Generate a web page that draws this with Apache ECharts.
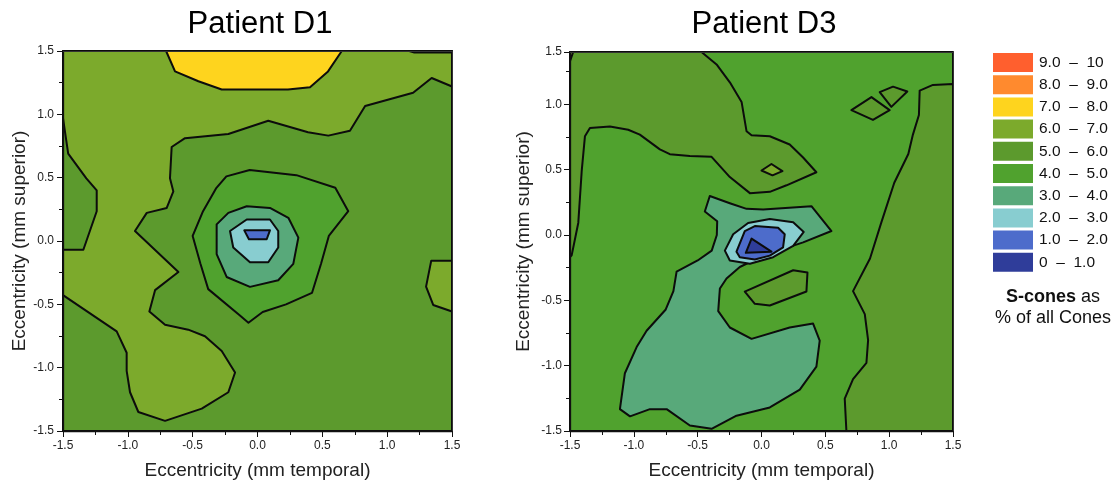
<!DOCTYPE html>
<html><head><meta charset="utf-8">
<script src="https://cdn.jsdelivr.net/npm/echarts@6/dist/echarts.min.js"></script>
<style>html,body{margin:0;padding:0;background:#fff;}#chart{width:1117px;height:485px;}</style>
</head><body><div id="chart"></div>
<script>
// ---------------- data ----------------
const bandMins = [0, 1, 2, 3, 4, 5, 6, 7, 8, 9];
const bandMaxs = [1, 2, 3, 4, 5, 6, 7, 8, 9, 10];
const bandLabels = ['0  \u2013  1.0', '1.0  \u2013  2.0', '2.0  \u2013  3.0', '3.0  \u2013  4.0', '4.0  \u2013  5.0',
                    '5.0  \u2013  6.0', '6.0  \u2013  7.0', '7.0  \u2013  8.0', '8.0  \u2013  9.0', '9.0  \u2013  10'];
const tickLabels = ['-1.5', '-1.0', '-0.5', '0.0', '0.5', '1.0', '1.5'];
const titles = ['Patient D1', 'Patient D3'];
const xName = 'Eccentricity (mm temporal)';
const yName = 'Eccentricity (mm superior)';
const captionBold = 'S-cones';
const captionRest = ' as';
const captionLine2 = '% of all Cones';

// Patient D1: contour regions (x mm temporal, y mm superior), painted in order
const d1Base = [[-1.5,-1.5],[1.5,-1.5],[1.5,1.5],[-1.5,1.5]];
const d1Outer6 = [[1.5,1.22],[1.343,1.287],[1.2,1.17],[0.83,1.066],[0.713,0.871],[0.546,0.832],[0.39,0.859],[0.083,0.949],
  [-0.225,0.845],[-0.559,0.812],[-0.662,0.742],[-0.675,0.495],[-0.649,0.391],[-0.70,0.261],[-0.854,0.222],[-0.945,0.079],
  [-0.61,-0.245],[-0.79,-0.388],[-0.834,-0.557],[-0.713,-0.661],[-0.534,-0.70],[-0.405,-0.752],[-0.276,-0.869],
  [-0.173,-1.038],[-0.225,-1.194],[-0.43,-1.323],[-0.713,-1.42],[-0.919,-1.35],[-0.983,-1.194],[-1.009,-1.025],
  [-1.009,-0.882],[-1.086,-0.713],[-1.5,-0.427],[-1.5,1.5],[1.5,1.5]];
const d1Strip5 = [[-1.5,0.97],[-1.46,0.69],[-1.32,0.495],[-1.24,0.40],[-1.24,0.235],[-1.343,-0.069],[-1.5,-0.069]];
const d1Edge6 = [[1.5,-0.155],[1.34,-0.155],[1.30,-0.36],[1.355,-0.505],[1.5,-0.557]];
const d1Peak7 = [[-0.705,1.5],[-0.636,1.339],[-0.456,1.261],[-0.276,1.196],[0.235,1.196],[0.405,1.214],[0.544,1.339],[0.65,1.5]];
const d1Corner7 = [[1.17,1.5],[1.21,1.488],[1.5,1.488],[1.5,1.5]];
const d1Ring4 = [[-0.24,0.51],[-0.06,0.56],[0.30,0.52],[0.60,0.42],[0.70,0.235],[0.55,0.04],[0.49,-0.18],[0.42,-0.41],
  [0.22,-0.50],[0.04,-0.56],[-0.07,-0.645],[-0.14,-0.585],[-0.38,-0.38],[-0.44,-0.18],[-0.50,0.04],[-0.42,0.235],[-0.32,0.415]];
const d1Ring3 = [[-0.315,0.131],[-0.225,0.222],[-0.083,0.274],[0.096,0.261],[0.238,0.183],[0.315,0.027],[0.276,-0.181],
  [0.16,-0.31],[-0.058,-0.362],[-0.238,-0.284],[-0.315,-0.103]];
const d1Ring2 = [[-0.212,0.079],[-0.083,0.17],[0.096,0.17],[0.16,0.079],[0.16,-0.051],[0.083,-0.168],[-0.058,-0.168],[-0.187,-0.051]];
const d1Core1 = [[-0.102,0.084],[0.096,0.084],[0.071,0.014],[-0.066,0.014]];
const d1Regions = [[5,d1Base],[6,d1Outer6],[5,d1Strip5],[6,d1Edge6],[7,d1Peak7],[7,d1Corner7],
                   [4,d1Ring4],[3,d1Ring3],[2,d1Ring2],[1,d1Core1]];

// Patient D3: contour regions (y axis of this panel ends at 1.4, labelled 1.5 in the figure)
const d3YMax = 1.4;
const d3Base = [[-1.5,-1.5],[1.5,-1.5],[1.5,1.4],[-1.5,1.4]];
const d3Upper5 = [[-0.47,1.4],[-0.352,1.305],[-0.248,1.168],[-0.156,1.018],[-0.117,0.793],[-0.078,0.763],[0.065,0.755],
  [0.221,0.692],[0.326,0.593],[0.43,0.48],[0.196,0.38],[0.065,0.33],[-0.091,0.32],[-0.248,0.443],[-0.391,0.598],
  [-0.561,0.605],[-0.718,0.618],[-0.796,0.655],[-0.953,0.768],[-1.044,0.805],[-1.187,0.83],[-1.344,0.818],[-1.383,0.755],
  [-1.408,0.493],[-1.435,0.094],[-1.487,-0.156],[-1.5,-0.17],[-1.5,1.4]];
const d3Dot6 = [[0.0,0.493],[0.078,0.543],[0.164,0.488],[0.086,0.456]];
const d3Right5 = [[1.5,1.155],[1.343,1.148],[1.239,1.105],[1.233,0.918],[1.186,0.768],[1.15,0.62],[1.04,0.40],[0.94,0.10],
  [0.85,-0.18],[0.717,-0.43],[0.809,-0.606],[0.835,-0.805],[0.822,-0.978],[0.717,-1.103],[0.652,-1.252],[0.665,-1.5],[1.5,-1.5]];
const d3Diamond5a = [[0.704,0.955],[0.861,1.055],[1.004,0.955],[0.873,0.88]];
const d3Diamond5b = [[0.926,1.093],[1.03,1.135],[1.142,1.098],[1.017,0.98]];
const d3Corner6 = [[-1.5,1.4],[-1.475,1.4],[-1.5,1.33]];
const d3Teal3 = [[-0.405,0.298],[-0.248,0.243],[-0.117,0.2],[0.013,0.195],[0.391,0.22],[0.548,0.03],[0.326,-0.057],
  [0.013,-0.158],[-0.17,-0.245],[-0.274,-0.333],[-0.326,-0.41],[-0.339,-0.583],[-0.248,-0.708],[-0.078,-0.795],
  [0.221,-0.708],[0.404,-0.678],[0.456,-0.808],[0.43,-1.008],[0.3,-1.183],[0.065,-1.32],[-0.196,-1.383],[-0.391,-1.483],
  [-0.561,-1.458],[-0.743,-1.333],[-0.874,-1.333],[-1.03,-1.388],[-1.109,-1.333],[-1.07,-1.058],[-0.978,-0.858],
  [-0.9,-0.733],[-0.75,-0.57],[-0.69,-0.43],[-0.665,-0.28],[-0.5,-0.195],[-0.39,-0.12],[-0.35,0.0],[-0.347,0.105],[-0.444,0.18]];
const d3Pocket5 = [[-0.131,-0.433],[0.248,-0.27],[0.36,-0.288],[0.352,-0.433],[0.065,-0.54],[-0.052,-0.527]];
const d3Cyan2 = [[-0.287,-0.12],[-0.222,0.005],[-0.105,0.092],[0.065,0.122],[0.248,0.098],[0.331,0.023],[0.248,-0.083],
  [0.091,-0.17],[-0.091,-0.22],[-0.248,-0.195]];
const d3Blue1 = [[-0.196,-0.128],[-0.131,0.03],[-0.052,0.068],[0.13,0.055],[0.182,0.005],[0.169,-0.095],[0.065,-0.158],
  [-0.052,-0.188],[-0.17,-0.17]];
const d3Deep0 = [[-0.123,-0.137],[-0.078,-0.028],[0.078,-0.128]];
const d3Regions = [[4,d3Base],[5,d3Upper5],[6,d3Dot6],[5,d3Right5],[5,d3Diamond5a],[5,d3Diamond5b],[6,d3Corner6],
                   [3,d3Teal3],[5,d3Pocket5],[2,d3Cyan2],[1,d3Blue1],[0,d3Deep0]];

// ---------------- styles ----------------
const bandColors = ['#2f3d9a','#4d6ccb','#88cdd0','#58a97a','#50a22e','#5c9a2d','#7caa2c','#fed41e','#ff8a2e','#ff5f2e'];
const FONT = '"Liberation Sans", Arial, Helvetica, sans-serif';
const INK = '#111';

function contourSeries(regions, idx) {
  return {
    type: 'custom', xAxisIndex: idx, yAxisIndex: idx, z: 2, silent: true, animation: false,
    data: regions.map((r, i) => [0, 0, i, r[0]]),
    renderItem: function (params, api) {
      const reg = regions[params.dataIndex];
      const pts = reg[1].map(p => api.coord(p));
      return { type: 'polygon', shape: { points: pts },
        style: { fill: bandColors[reg[0]], stroke: '#0c0c0c', lineWidth: 2, lineJoin: 'round' } };
    }
  };
}

function mainX(grid) {
  return { type: 'value', gridIndex: grid, min: -1.5, max: 1.5, interval: 0.5, position: 'bottom', z: 5,
    axisLine: { show: true, onZero: false, lineStyle: { color: INK, width: 1.3 } },
    axisTick: { show: true, length: 6, lineStyle: { color: INK, width: 1 } },
    minorTick: { show: true, splitNumber: 2, length: 4, lineStyle: { color: INK, width: 1 } },
    splitLine: { show: false }, minorSplitLine: { show: false },
    axisLabel: { fontSize: 12, color: '#222', margin: 9, fontFamily: FONT, formatter: (v, i) => tickLabels[i] },
    name: xName, nameLocation: 'middle', nameGap: 30,
    nameTextStyle: { fontSize: 19, color: '#222', fontFamily: FONT } };
}
function frameAxis(grid, pos, max) {
  return { type: 'value', gridIndex: grid, min: -1.5, max: max, position: pos, z: 5,
    axisLine: { show: true, onZero: false, lineStyle: { color: '#333', width: 1 } },
    axisTick: { show: false }, axisLabel: { show: false }, splitLine: { show: false } };
}

const option = {
  backgroundColor: '#fff',
  animation: false,
  title: [
    { text: titles[0], left: 260, top: 9, textAlign: 'center', padding: 0,
      textStyle: { fontSize: 31, fontWeight: 'normal', color: '#000', fontFamily: FONT } },
    { text: titles[1], left: 764, top: 9, textAlign: 'center', padding: 0,
      textStyle: { fontSize: 31, fontWeight: 'normal', color: '#000', fontFamily: FONT } }
  ],
  grid: [
    { left: 63, top: 51, width: 389, height: 385 },
    { left: 570, top: 52, width: 383, height: 387 }
  ],
  xAxis: [ mainX(0), mainX(1), frameAxis(0, 'top', 1.5), frameAxis(1, 'top', 1.5) ],
  yAxis: [
    { type: 'value', gridIndex: 0, min: -1.5, max: 1.5, interval: 0.5, position: 'left', z: 5,
      axisLine: { show: true, onZero: false, lineStyle: { color: INK, width: 1.3 } },
      axisTick: { show: true, length: 6, lineStyle: { color: INK, width: 1 } },
      minorTick: { show: true, splitNumber: 2, length: 4, lineStyle: { color: INK, width: 1 } },
      splitLine: { show: false }, minorSplitLine: { show: false },
      axisLabel: { fontSize: 12, color: '#222', margin: 9, fontFamily: FONT, formatter: (v, i) => tickLabels[i] },
      name: yName, nameLocation: 'middle', nameGap: 32,
      nameTextStyle: { fontSize: 19, color: '#222', fontFamily: FONT } },
    { type: 'value', gridIndex: 1, min: -1.5, max: d3YMax, interval: 0.5, position: 'left', z: 5,
      axisLine: { show: true, onZero: false, lineStyle: { color: INK, width: 1.3 } },
      axisTick: { show: true, length: 6, lineStyle: { color: INK, width: 1 } },
      splitLine: { show: false },
      axisLabel: { fontSize: 12, color: '#222', margin: 8, fontFamily: FONT, formatter: (v, i) => tickLabels[i] },
      name: yName, nameLocation: 'middle', nameGap: 37,
      nameTextStyle: { fontSize: 19, color: '#222', fontFamily: FONT } },
    frameAxis(0, 'right', 1.5),
    frameAxis(1, 'right', d3YMax),
    { type: 'value', gridIndex: 1, min: -1.5, max: d3YMax, interval: 0.25, position: 'left', z: 5,
      axisLine: { show: false, onZero: false }, axisTick: { show: true, length: 4, lineStyle: { color: INK, width: 1 } },
      axisLabel: { show: false }, splitLine: { show: false } }
  ],
  visualMap: {
    type: 'piecewise', seriesIndex: [], orient: 'vertical', left: 978, top: 38, align: 'left',
    itemWidth: 40, itemHeight: 19, itemGap: 3.2, itemSymbol: 'rect', textGap: 6,
    hoverLink: false, selectedMode: false,
    textStyle: { fontSize: 15.5, color: INK, fontFamily: FONT },
    pieces: bandMins.map((m, i) => ({ min: m, max: bandMaxs[i], label: bandLabels[i], color: bandColors[i] })).reverse()
  },
  graphic: [
    { type: 'text', x: 1053, y: 297, silent: true,
      style: { text: '{b|' + captionBold + '}{n|' + captionRest + '}', align: 'center', verticalAlign: 'middle', fill: INK,
        rich: { b: { fontWeight: 'bold', fontSize: 18, fontFamily: FONT, fill: INK },
                n: { fontSize: 18, fontFamily: FONT, fill: INK } } } },
    { type: 'text', x: 1053, y: 318, silent: true,
      style: { text: captionLine2, align: 'center', verticalAlign: 'middle', fill: INK, font: '18px ' + FONT } }
  ],
  series: [ contourSeries(d1Regions, 0), contourSeries(d3Regions, 1) ]
};

const chart = echarts.init(document.getElementById('chart'), null, { renderer: 'canvas' });
chart.setOption(option);
</script>
</body></html>
